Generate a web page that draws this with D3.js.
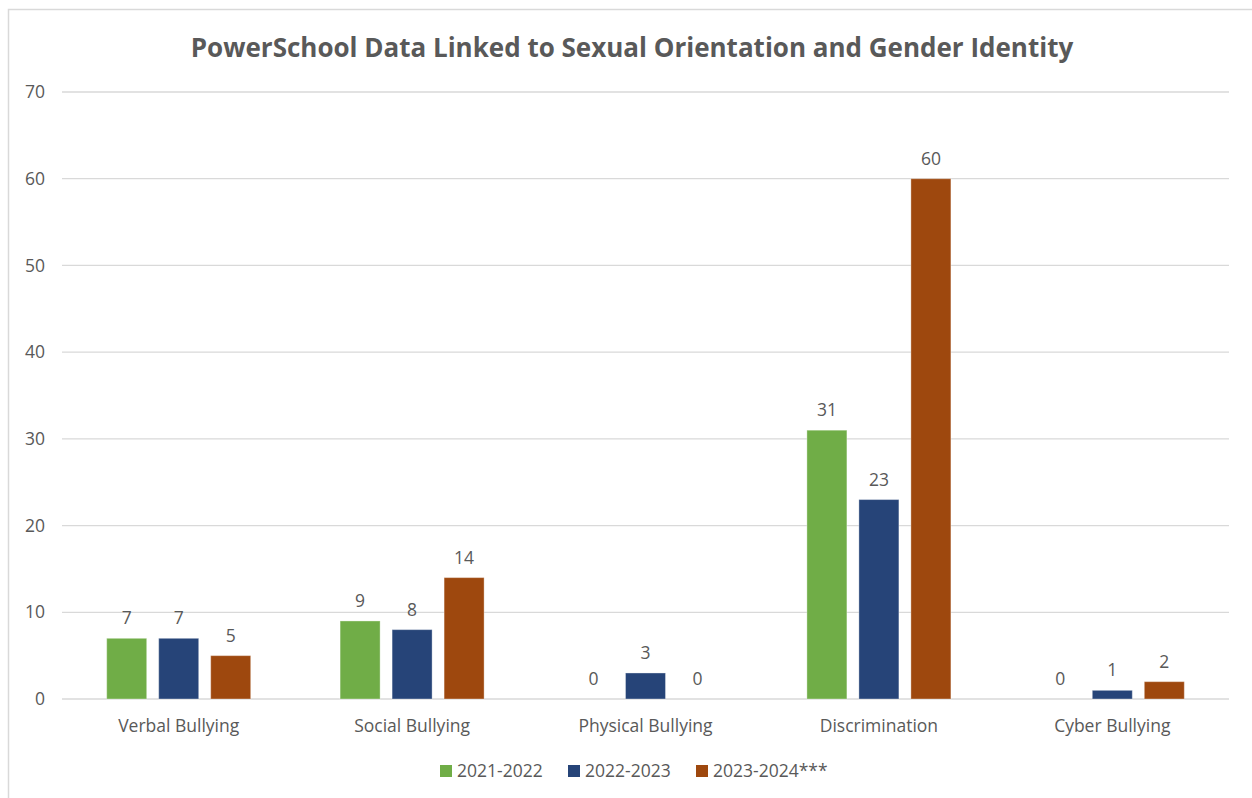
<!DOCTYPE html>
<html>
<head>
<meta charset="utf-8">
<script src="https://d3js.org/d3.v7.min.js"></script>
<style>
  body { margin: 0; background: #fff; }
  text { font-family: "Open Sans", Lato, sans-serif; fill: #595959; }
</style>
</head>
<body>
<svg id="chart" width="1252" height="798"></svg>
<script>
// Chart data
const categories = ["Verbal Bullying", "Social Bullying", "Physical Bullying", "Discrimination", "Cyber Bullying"];
const seriesNames = ["2021-2022", "2022-2023", "2023-2024***"];
const values2021 = [7, 9, 0, 31, 0];
const values2022 = [7, 8, 3, 23, 1];
const values2023 = [5, 14, 0, 60, 2];
const yTicks = [0, 10, 20, 30, 40, 50, 60, 70];
const colors = ["#70AD47", "#264478", "#9E480E"];

const series = [values2021, values2022, values2023];

const svg = d3.select("#chart");
const width = 1252, height = 798;
const margin = {left: 62, right: 23, top: 92, bottom: 99};
const labelSize = "17.5px";

// Chart border (left and top only are visible)
svg.append("path")
    .attr("d", "M8.5," + height + "V9.5H" + width)
    .attr("fill", "none")
    .attr("stroke", "#d9d9d9")
    .attr("stroke-width", 1.5);

const x = d3.scaleBand()
    .domain(categories)
    .range([margin.left, width - margin.right]);

const y = d3.scaleLinear()
    .domain([0, 70])
    .range([height - margin.bottom, margin.top]);

const barWidth = 40, barStep = 52;

// Gridlines
svg.append("g").selectAll("line")
    .data(yTicks)
  .join("line")
    .attr("x1", margin.left)
    .attr("x2", width - margin.right)
    .attr("y1", d => y(d))
    .attr("y2", d => y(d))
    .attr("stroke", "#d9d9d9")
    .attr("stroke-width", 1.3);

// Y tick labels
svg.append("g").selectAll("text")
    .data(yTicks)
  .join("text")
    .attr("x", 45)
    .attr("y", d => y(d))
    .attr("dy", "0.35em")
    .attr("text-anchor", "end")
    .style("font-size", labelSize)
    .text(d => d);

// Bars
seriesNames.forEach((name, i) => {
  const g = svg.append("g");
  const data = categories.map((c, j) => ({cat: c, value: series[i][j]}));
  const cx = d => x(d.cat) + x.bandwidth() / 2 + (i - 1) * barStep;

  g.selectAll("rect")
      .data(data.filter(d => d.value > 0))
    .join("rect")
      .attr("x", d => cx(d) - barWidth / 2)
      .attr("y", d => y(d.value))
      .attr("width", barWidth)
      .attr("height", d => y(0) - y(d.value))
      .attr("fill", colors[i])
      .attr("stroke", "#fff")
      .attr("stroke-opacity", 0.35)
      .attr("stroke-width", 1);

  g.selectAll("text")
      .data(data)
    .join("text")
      .attr("x", cx)
      .attr("y", d => y(d.value) - 14)
      .attr("text-anchor", "middle")
      .style("font-size", labelSize)
      .text(d => d.value);
});

// Category labels
svg.append("g").selectAll("text")
    .data(categories)
  .join("text")
    .attr("x", d => x(d) + x.bandwidth() / 2)
    .attr("y", 732)
    .attr("text-anchor", "middle")
    .style("font-size", labelSize)
    .text(d => d);

// Title
svg.append("text")
    .attr("x", 632)
    .attr("y", 57)
    .attr("text-anchor", "middle")
    .style("font-size", "26px")
    .style("font-weight", "bold")
    .text("PowerSchool Data Linked to Sexual Orientation and Gender Identity");

// Legend
const legendX = [440, 568, 696];
const legend = svg.append("g").selectAll("g")
    .data(seriesNames)
  .join("g")
    .attr("transform", (d, i) => "translate(" + legendX[i] + ",765)");

legend.append("rect")
    .attr("width", 12)
    .attr("height", 12)
    .attr("fill", (d, i) => colors[i]);

legend.append("text")
    .attr("x", 17)
    .attr("y", 6)
    .attr("dy", "0.35em")
    .style("font-size", labelSize)
    .text(d => d);
</script>
</body>
</html>
